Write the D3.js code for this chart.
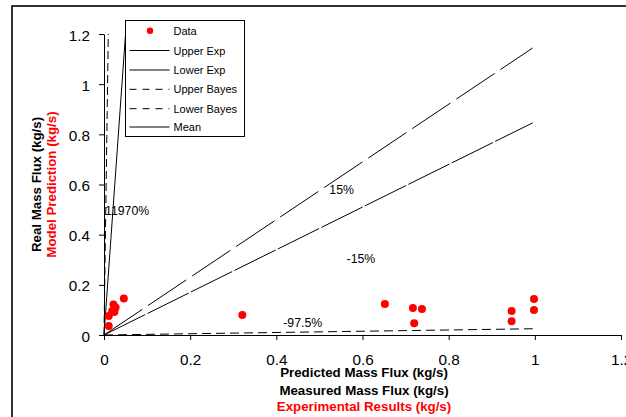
<!DOCTYPE html>
<html>
<head>
<meta charset="utf-8">
<script src="https://cdn.jsdelivr.net/npm/d3@7"></script>
<style>
  html, body { margin: 0; padding: 0; background: #fff; }
  svg { display: block; font-family: "Liberation Sans", Arial, sans-serif; }
</style>
</head>
<body>
<svg id="chart" width="626" height="417"></svg>
<script>
// Measured (x) vs. predicted (y) mass flux, kg/s
const measured  = [0.011, 0.011, 0.022, 0.027, 0.024, 0.019, 0.046, 0.321, 0.652, 0.717, 0.738, 0.720, 0.946, 0.946, 0.998, 0.998];
const predicted = [0.036, 0.076, 0.122, 0.110, 0.092, 0.096, 0.146, 0.080, 0.124, 0.108, 0.104, 0.047, 0.096, 0.055, 0.144, 0.100];

const xTicks = [0, 0.2, 0.4, 0.6, 0.8, 1, 1.2];
const yTicks = [0, 0.2, 0.4, 0.6, 0.8, 1, 1.2];

// Reference lines through the origin: y = slope * x
const refNames  = ["Upper Exp", "Lower Exp", "Upper Bayes", "Lower Bayes", "Mean"];
const refSlopes = [1.15, 0.85, 120.7, 0.025, 24];
const refMaxX   = 0.995;            // lines run up to the largest measurement
const refMaxY   = [null, null, 1.2, null, 1.25];

// Percent deviation labels
const pctLabels = ["11970%", "15%", "-15%", "-97.5%"];
const pctX      = [0.0023, 0.523, 0.563, 0.416];
const pctY      = [0.478, 0.562, 0.288, 0.033];

const legendLabels = ["Data", "Upper Exp", "Lower Exp", "Upper Bayes", "Lower Bayes", "Mean"];

const svg = d3.select("#chart");

// Outer chart frame
svg.append("rect")
  .attr("x", 12).attr("y", 6).attr("width", 720).attr("height", 520)
  .attr("fill", "none").attr("stroke", "#000").attr("stroke-width", 1.6);

const x = d3.scaleLinear().domain([0, 1.2]).range([104, 621]);
const y = d3.scaleLinear().domain([0, 1.2]).range([335, 34]);

// Axes
const xAxis = svg.append("g")
  .attr("transform", `translate(0,${y(0)})`)
  .call(d3.axisBottom(x).tickValues(xTicks).tickSize(5).tickSizeOuter(0).tickFormat(d => String(d)));
xAxis.selectAll("text")
  .attr("y", 30).attr("dy", 0)
  .attr("font-size", 15.3).attr("font-family", "Liberation Sans, Arial, sans-serif").attr("fill", "#000");

const yAxis = svg.append("g")
  .attr("transform", `translate(${x(0)},0)`)
  .call(d3.axisLeft(y).tickValues(yTicks).tickSize(5).tickSizeOuter(0).tickFormat(d => String(d)));
yAxis.selectAll("text")
  .attr("x", -14).attr("dy", 6)
  .attr("font-size", 15.3).attr("font-family", "Liberation Sans, Arial, sans-serif").attr("fill", "#000");

svg.selectAll(".domain, .tick line").attr("stroke", "#000").attr("stroke-width", 1);

// Reference lines
const dashes = ["46,7", "46,2.5", "8,4", "9,5", null];
const refG = svg.append("g");
refNames.forEach((name, i) => {
  const s = refSlopes[i];
  let x1 = refMaxX;
  if (refMaxY[i] !== null) x1 = Math.min(x1, refMaxY[i] / s);
  refG.append("line")
    .attr("x1", x(0)).attr("y1", y(0))
    .attr("x2", x(x1)).attr("y2", y(s * x1))
    .attr("stroke", "#000").attr("stroke-width", 1)
    .attr("stroke-dasharray", dashes[i]);
});

// Data points
svg.append("g").selectAll("circle")
  .data(measured.map((m, i) => [m, predicted[i]]))
  .join("circle")
  .attr("cx", d => x(d[0])).attr("cy", d => y(d[1]))
  .attr("r", 4).attr("fill", "#ff0000");

// Deviation labels
svg.append("g").selectAll("text")
  .data(pctLabels)
  .join("text")
  .attr("x", (d, i) => x(pctX[i])).attr("y", (d, i) => y(pctY[i]))
  .attr("font-size", 12.3).attr("fill", "#000")
  .text(d => d);

// Axis titles
const xTitles = [["Predicted Mass Flux (kg/s)", "#000", 376.5],
                 ["Measured Mass Flux (kg/s)", "#000", 394.5],
                 ["Experimental Results (kg/s)", "#ff0000", 411]];
xTitles.forEach(t => {
  svg.append("text")
    .attr("x", 364).attr("y", t[2])
    .attr("text-anchor", "middle").attr("font-weight", "bold")
    .attr("font-size", 13.3).attr("fill", t[1])
    .text(t[0]);
});

const yTitles = [["Real Mass Flux (kg/s)", "#000", 40.5],
                 ["Model Prediction (kg/s)", "#ff0000", 56.2]];
yTitles.forEach(t => {
  svg.append("text")
    .attr("transform", `translate(${t[2]},184.5) rotate(-90)`)
    .attr("text-anchor", "middle").attr("font-weight", "bold")
    .attr("font-size", 13.3).attr("fill", t[1])
    .text(t[0]);
});

// Legend
const lg = svg.append("g");
lg.append("rect")
  .attr("x", 125.5).attr("y", 20.5).attr("width", 119).attr("height", 116)
  .attr("fill", "#fff").attr("stroke", "#000").attr("stroke-width", 1);
const rowY = [30.7, 50.5, 70, 89.3, 108.7, 127];
const legendDash = [null, null, null, "7,6", "7,6", null];
legendLabels.forEach((lab, i) => {
  if (i === 0) {
    lg.append("circle").attr("cx", 150).attr("cy", rowY[i]).attr("r", 3.2).attr("fill", "#ff0000");
  } else {
    lg.append("line")
      .attr("x1", 129.5).attr("x2", 169.5)
      .attr("y1", rowY[i]).attr("y2", rowY[i])
      .attr("stroke", "#000").attr("stroke-width", 1)
      .attr("stroke-dasharray", legendDash[i]);
  }
  lg.append("text")
    .attr("x", 173.5).attr("y", rowY[i] + 4)
    .attr("font-size", 11).attr("fill", "#000")
    .text(lab);
});
</script>
</body>
</html>
